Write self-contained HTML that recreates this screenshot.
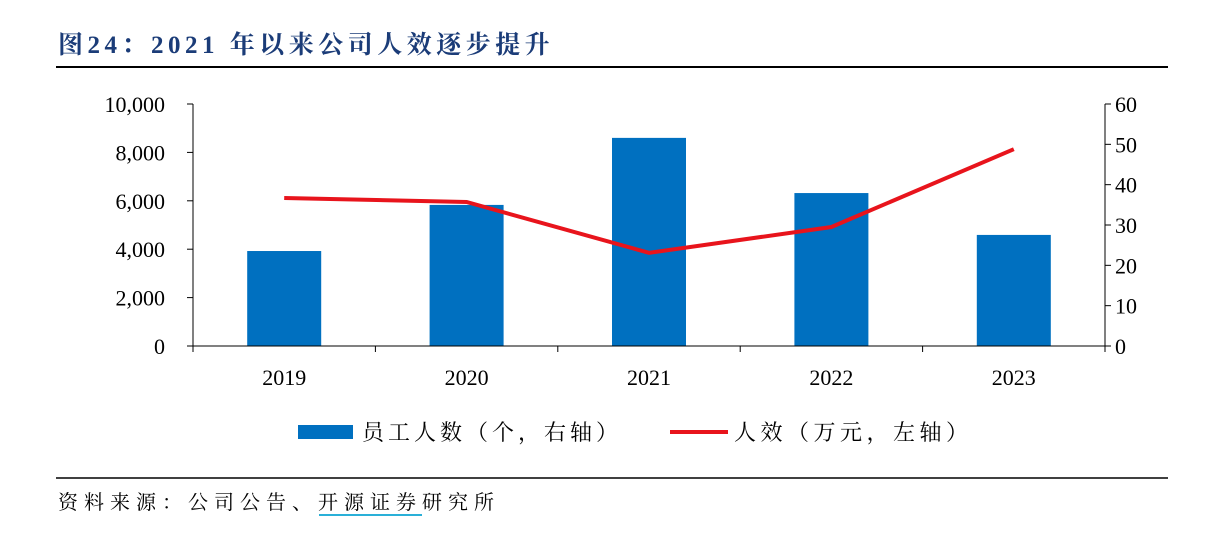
<!DOCTYPE html>
<html><head><meta charset="utf-8"><style>
body{margin:0;background:#fff;width:1210px;height:541px;overflow:hidden;font-family:"Liberation Serif","Noto Serif CJK SC",serif;}
svg text{font-family:"Liberation Serif","Noto Serif CJK SC",serif;}
</style></head><body>
<svg width="1210" height="541">
<text x="58" y="53" font-size="25" font-weight="bold" fill="#1b3c78" letter-spacing="4.5">图24：2021 年以来公司人效逐步提升</text>
<line x1="56" y1="67" x2="1168" y2="67" stroke="#000" stroke-width="2"/>
<g id="plot"></g>
<line x1="56" y1="478" x2="1168" y2="478" stroke="#000" stroke-width="1.5"/>
<text x="58" y="509" font-size="20" fill="#000" letter-spacing="6">资料来源：公司公告、开源证券研究所</text>
<line x1="319" y1="515" x2="422" y2="515" stroke="#2ab0d8" stroke-width="2"/>
</svg>
<script>
const categories=["2019","2020","2021","2022","2023"];
const employees=[3925,5830,8600,6320,4590];
const efficiency=[36.7,35.7,23.1,29.5,48.8];
const leftTicks=[0,2000,4000,6000,8000,10000];
const leftLabels=["0","2,000","4,000","6,000","8,000","10,000"];
const rightTicks=[0,10,20,30,40,50,60];
const NS="http://www.w3.org/2000/svg";
const g=document.getElementById("plot");
const X0=193,X1=1105,Y0=346,Y1=104;
const yL=v=>Y0-(v/10000)*(Y0-Y1);
const yR=v=>Y0-(v/60)*(Y0-Y1);
const bw=(X1-X0)/categories.length;
const xc=i=>X0+bw*(i+0.5);
function el(t,a){const e=document.createElementNS(NS,t);for(const k in a)e.setAttribute(k,a[k]);g.appendChild(e);return e;}
let e;
categories.forEach((c,i)=>{
 e=el("rect",{x:xc(i)-37,y:yL(employees[i]),width:74,height:Y0-yL(employees[i]),fill:"#0070c0"});
 
 
 e=el("text",{x:xc(i),y:Y0+39,"font-size":22,"text-anchor":"middle"});e.textContent=c;
 
 
});
e=el("line",{x1:X0,y1:Y1,x2:X0,y2:Y0,stroke:"#000"});
e=el("line",{x1:X1,y1:Y1,x2:X1,y2:Y0,stroke:"#000"});
e=el("line",{x1:X0,y1:Y0,x2:X1,y2:Y0,stroke:"#000"});
leftTicks.forEach((t,i)=>{
 el("line",{x1:X0-6,y1:yL(t),x2:X0,y2:yL(t),stroke:"#000"});
 e=el("text",{x:X0-28,y:yL(t)+8,"font-size":22,"text-anchor":"end"});e.textContent=leftLabels[i];
 
 
});
rightTicks.forEach(t=>{
 el("line",{x1:X1,y1:yR(t),x2:X1+6,y2:yR(t),stroke:"#000"});
 e=el("text",{x:X1+10,y:yR(t)+8,"font-size":22});e.textContent=t;
 
 
});
for(let i=0;i<=categories.length;i++)el("line",{x1:X0+bw*i,y1:Y0,x2:X0+bw*i,y2:Y0+6,stroke:"#000"});
e=el("polyline",{points:efficiency.map((v,i)=>xc(i)+","+yR(v)).join(" "),fill:"none",stroke:"#e8141c","stroke-width":4});


e=el("rect",{x:298,y:425,width:55,height:14,fill:"#0070c0"});

e=el("text",{x:362,y:440,"font-size":22,"letter-spacing":4});e.textContent="员工人数（个，右轴）";

e=el("line",{x1:670,y1:432,x2:728,y2:432,stroke:"#e8141c","stroke-width":4});

e=el("text",{x:734,y:440,"font-size":22,"letter-spacing":4.5});e.textContent="人效（万元，左轴）";

</script>
</body></html>
